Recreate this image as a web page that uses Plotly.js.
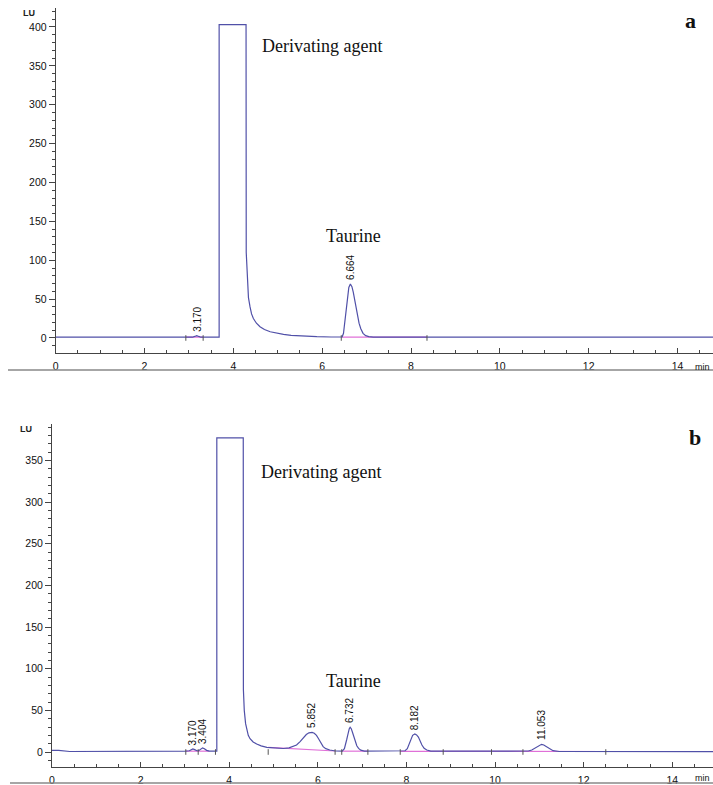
<!DOCTYPE html>
<html>
<head>
<meta charset="utf-8">
<script src="https://cdn.plot.ly/plotly-3.0.1.min.js"></script>
<style>html,body{margin:0;padding:0;background:#fff;}#chart{width:713px;height:785px;}</style>
</head>
<body>
<div id="chart"></div>
<script>
// ---------- Panel a : chromatogram (time in min, signal in LU) ----------
const timeA = [0, 0.5, 1.0, 1.5, 2.0, 2.5, 2.9, 3.08, 3.13, 3.175, 3.22, 3.27, 3.5, 3.68, 3.68, 4.286, 4.29, 4.316, 4.34, 4.376, 4.41, 4.451, 4.52, 4.60, 4.70, 4.83, 4.97, 5.13, 5.3, 5.5, 5.88, 6.2, 6.45, 6.48, 6.51, 6.54, 6.57, 6.60, 6.635, 6.67, 6.70, 6.73, 6.76, 6.79, 6.83, 6.87, 6.92, 6.98, 7.05, 7.15, 7.5, 8.0, 9.0, 10.0, 11.0, 12.0, 13.0, 14.0, 14.8];
const signalA = [1, 1, 1, 1, 1, 1, 1, 1, 2, 3, 2, 1, 1, 1, 403, 403, 110, 66, 52, 40, 31, 25, 19, 14.5, 11, 8, 6, 4.7, 3.4, 2.6, 1.7, 1.3, 1.5, 6, 20, 38, 55, 65, 69.4, 66, 59, 49, 39, 30, 19, 12, 6, 3, 1.8, 1.2, 1, 1, 1, 1, 1, 1, 1, 1, 1];
const baselineA_t = [2.93, 3.32, null, 6.45, 8.36];
const baselineA_v = [1, 1, null, 1.2, 1.0];
const eventsA = [2.93, 3.32, 6.43, 8.36];
const peakTimesA = [3.175, 6.635];
const peakHeightsA = [3, 69.4];
const peakLabelsA = ['3.170', '6.664'];

// ---------- Panel b ----------
const timeB = [0, 0.15, 0.4, 1.0, 1.5, 2.0, 2.5, 3.0, 3.1, 3.14, 3.18, 3.22, 3.27, 3.31, 3.35, 3.40, 3.44, 3.49, 3.55, 3.72, 3.72, 4.317, 4.32, 4.34, 4.37, 4.395, 4.43, 4.47, 4.54, 4.62, 4.72, 4.85, 5.05, 5.22, 5.35, 5.45, 5.52, 5.6, 5.67, 5.74, 5.8, 5.87, 5.92, 5.97, 6.01, 6.05, 6.09, 6.12, 6.18, 6.27, 6.4, 6.55, 6.6, 6.63, 6.65, 6.67, 6.69, 6.71, 6.73, 6.755, 6.78, 6.81, 6.84, 6.88, 6.92, 6.97, 7.05, 7.9, 7.97, 8.02, 8.06, 8.1, 8.14, 8.19, 8.23, 8.27, 8.31, 8.35, 8.4, 8.46, 8.55, 10.6, 10.75, 10.83, 10.89, 10.94, 11.0, 11.05, 11.1, 11.16, 11.23, 11.31, 11.45, 12.0, 13.0, 14.0, 14.92];
const signalB = [2, 2, 0.6, 0.5, 0.6, 0.8, 0.7, 1, 1.5, 2.8, 3.6, 2.8, 1.5, 1.5, 3, 5, 4, 2, 1, 1, 377, 377, 75, 50, 34, 26, 20, 16, 12, 9.6, 7.3, 5.6, 4.5, 4.2, 5, 6.5, 8.4, 12.5, 17, 21, 23, 23.6, 22.5, 20, 16.5, 12.4, 9, 6.4, 4, 2.4, 1.2, 1, 4, 9, 14.4, 19, 24, 28, 29.6, 28, 24, 18, 12.4, 7.5, 4.4, 2.2, 1, 0.8, 1.5, 4, 9, 16, 20, 21.6, 20.5, 18, 13, 8.4, 4.5, 2.4, 1, 0.7, 1.2, 2.4, 4.2, 6.4, 8.4, 9.2, 8.4, 6.4, 3.8, 1.6, 0.6, 0.5, 0.5, 0.5, 0.5];
const baselineB_t = [3.02, 3.55, null, 4.88, 6.39, null, 6.54, 7.13, null, 7.86, 12.5];
const baselineB_v = [1, 1, null, 5.5, 1.2, null, 1, 1, null, 0.8, 0.6];
const eventsB = [3.02, 3.3, 3.69, 4.88, 6.39, 6.54, 7.13, 7.86, 8.83, 9.92, 10.63, 12.5];
const peakTimesB = [3.18, 3.40, 5.87, 6.73, 8.19, 11.05];
const peakHeightsB = [3.6, 5, 23.6, 29.6, 21.6, 9.2];
const peakLabelsB = ['3.170', '3.404', '5.852', '6.732', '8.182', '11.053'];

const xTickVals = [0, 2, 4, 6, 8, 10, 12, 14];
const yTickValsA = [0, 50, 100, 150, 200, 250, 300, 350, 400];
const yTickValsB = [0, 50, 100, 150, 200, 250, 300, 350];

// ---------- styling ----------
const LINE = '#5050a8';
const PINK = '#e070d8';
const AX = '#444';
const W = 713, H = 785;
const px = v => v / W;
const py = v => 1 - v / H;

function sigTrace(t, v, xa, ya) {
  return {x: t, y: v, xaxis: xa, yaxis: ya, type: 'scatter', mode: 'lines',
          line: {color: LINE, width: 1.2}, hoverinfo: 'skip'};
}
function baseTrace(t, v, xa, ya) {
  return {x: t, y: v, xaxis: xa, yaxis: ya, type: 'scatter', mode: 'lines',
          line: {color: PINK, width: 1.2}, connectgaps: false, hoverinfo: 'skip'};
}
function eventTrace(t, xa, ya) {
  return {x: t, y: t.map(() => 0), xaxis: xa, yaxis: ya, type: 'scatter', mode: 'markers',
          marker: {symbol: 'line-ns', size: 4, line: {color: '#555', width: 1}}, hoverinfo: 'skip'};
}

const data = [
  baseTrace(baselineA_t, baselineA_v, 'x', 'y'),
  sigTrace(timeA, signalA, 'x', 'y'),
  eventTrace(eventsA, 'x', 'y'),
  baseTrace(baselineB_t, baselineB_v, 'x2', 'y2'),
  sigTrace(timeB, signalB, 'x2', 'y2'),
  eventTrace(eventsB, 'x2', 'y2')
];

const tickFont = {family: 'Liberation Sans, Arial', size: 10.5, color: '#111'};

function xAxis(domainLeft, rmax, anchor) {
  return {domain: [domainLeft, 1], range: [0, rmax], anchor: anchor,
    showline: true, linecolor: AX, linewidth: 1, showgrid: false, zeroline: false,
    tickmode: 'array', tickvals: xTickVals, ticks: 'inside', ticklen: 5, tickcolor: AX,
    minor: {dtick: 0.5, tick0: 0, ticks: 'inside', ticklen: 3, tickcolor: AX},
    ticklabelstandoff: 3, tickfont: tickFont, fixedrange: true};
}
function yAxis(domain, range, vals, anchor) {
  return {domain: domain, range: range, anchor: anchor,
    showline: true, linecolor: AX, linewidth: 1, showgrid: false, zeroline: false,
    tickmode: 'array', tickvals: vals, ticks: 'outside', ticklen: 6, tickcolor: AX,
    minor: {dtick: 10, tick0: 0, ticks: 'outside', ticklen: 3, tickcolor: AX},
    tickfont: tickFont, fixedrange: true};
}

const annotations = [];
function peakLabels(times, heights, labels, xr, yr) {
  times.forEach((t, i) => annotations.push({
    x: t, y: heights[i], xref: xr, yref: yr, text: labels[i], showarrow: false,
    textangle: -90, xanchor: 'center', yanchor: 'bottom', yshift: 2,
    font: {family: 'Liberation Sans, Arial', size: 10, color: '#111'}
  }));
}
peakLabels(peakTimesA, peakHeightsA, peakLabelsA, 'x', 'y');
peakLabels(peakTimesB, peakHeightsB, peakLabelsB, 'x2', 'y2');

function paperText(text, x, y, font, xanchor) {
  annotations.push({text: text, x: px(x), y: py(y), xref: 'paper', yref: 'paper', showarrow: false,
    xanchor: xanchor || 'center', yanchor: 'middle', font: font});
}
const serif = {family: 'Liberation Serif, Times New Roman', size: 18, color: '#111'};
const serifBold = {family: 'Liberation Serif, Times New Roman', size: 22, color: '#111'};
const small = {family: 'Liberation Sans, Arial', size: 9, color: '#222'};
const minFont = {family: 'Liberation Sans, Arial', size: 9, color: '#111'};
paperText('Derivating agent', 322, 46, serif);
paperText('Derivating agent', 321, 472, serif);
paperText('Taurine', 353, 236, serif);
paperText('Taurine', 353, 681, serif);
paperText('<b>a</b>', 690, 21, serifBold);
paperText('<b>b</b>', 695, 437, serifBold);
paperText('<b>LU</b>', 29, 13.5, small);
paperText('<b>LU</b>', 26, 428.5, small);
paperText('min', 712, 367, minFont, 'right');
paperText('min', 712, 778, minFont, 'right');

const layout = {
  width: W, height: H, margin: {l: 0, r: 0, t: 0, b: 0, pad: 0},
  paper_bgcolor: '#fff', plot_bgcolor: 'rgba(0,0,0,0)', showlegend: false,
  xaxis: xAxis(px(55.7), 14.8, 'y'),
  yaxis: yAxis([py(353), py(8)], [-19.3, 424.4], yTickValsA, 'x'),
  xaxis2: xAxis(px(52), 14.92, 'y2'),
  yaxis2: yAxis([py(767), py(424)], [-18, 393.7], yTickValsB, 'x2'),
  annotations: annotations,
  shapes: [
    {type: 'line', xref: 'paper', yref: 'paper', x0: px(8), x1: 1, y0: py(370), y1: py(370), line: {color: '#888', width: 1.5}},
    {type: 'line', xref: 'paper', yref: 'paper', x0: px(10), x1: 1, y0: py(783), y1: py(783), line: {color: '#888', width: 1.5}}
  ]
};

Plotly.newPlot('chart', data, layout, {displayModeBar: false, staticPlot: true});
</script>
</body>
</html>
